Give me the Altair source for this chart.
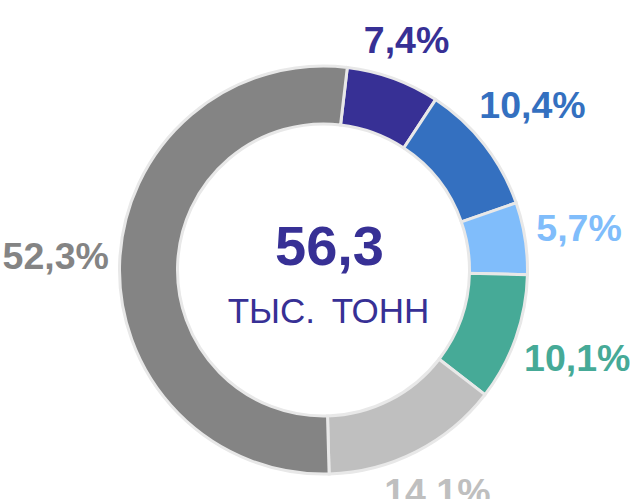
import math
import altair as alt
import pandas as pd

# ---- data ----
segments = ["Сегмент 1", "Сегмент 2", "Сегмент 3", "Сегмент 4", "Сегмент 5", "Сегмент 6"]
shares = [7.4, 10.4, 5.7, 10.1, 14.1, 52.3]
labels = ["7,4%", "10,4%", "5,7%", "10,1%", "14,1%", "52,3%"]
colors = ["#373095", "#3470c0", "#80bdfb", "#46aa97", "#bfbfbf", "#848484"]
total_value = ["56,3"]
total_unit = ["ТЫС.\u00a0\u2009ТОНН"]

df = pd.DataFrame({
    "segment": segments,
    "share": shares,
    "label": labels,
    "order": list(range(len(segments))),
})

CX, CY = 323.5, 270
START = 0.117
R_OUT, R_IN = 204, 146
LABEL_FS = 37.5
theta_scale = alt.Scale(range=[START, START + 2 * math.pi])
color_scale = alt.Scale(domain=segments, range=colors)
FONT = "Liberation Sans"
NAVY = "#373095"

arcs = alt.Chart(df).mark_arc(
    innerRadius=R_IN, outerRadius=R_OUT, stroke="#e8e8e8", strokeWidth=3
).encode(
    theta=alt.Theta("share:Q", stack=True, scale=theta_scale),
    order=alt.Order("order:Q"),
    color=alt.Color("segment:N", scale=color_scale, legend=None),
    x=alt.value(CX),
    y=alt.value(CY),
)

# outside-end labels: mid angle of each slice, pushed out by half the label box
pct = alt.Chart(df).transform_window(
    cum="sum(share)", sort=[alt.SortField("order")]
).transform_joinaggregate(
    total="sum(share)"
).transform_calculate(
    mid=f"{START} + 2*PI*(datum.cum - datum.share/2)/datum.total"
).transform_calculate(
    r=f"{R_OUT + 11} + length(datum.label)*{LABEL_FS * 0.28}*abs(sin(datum.mid)) + 14*abs(cos(datum.mid))"
).mark_text(
    fontSize=LABEL_FS, fontWeight="bold", font=FONT, align="center", baseline="middle"
).encode(
    theta=alt.Theta("mid:Q", scale=None),
    radius=alt.Radius("r:Q", scale=None),
    text="label:N",
    color=alt.Color("segment:N", scale=color_scale, legend=None),
    x=alt.value(CX),
    y=alt.value(CY),
)

big = alt.Chart(pd.DataFrame({"t": total_value})).mark_text(
    fontSize=56, fontWeight="bold", font=FONT, color=NAVY, align="center", baseline="alphabetic"
).encode(text="t:N", x=alt.value(CX + 6), y=alt.value(265))

unit = alt.Chart(pd.DataFrame({"t": total_unit})).mark_text(
    fontSize=35, font=FONT, color=NAVY, align="center", baseline="alphabetic"
).encode(text="t:N", x=alt.value(CX + 5), y=alt.value(323))

chart = alt.layer(arcs, pct, big, unit).properties(
    width=630, height=499, autosize=alt.AutoSizeParams(type="none"), padding=0
).configure_view(stroke=None)

chart.save("out.html", embed_options={"renderer": "svg", "actions": False})
